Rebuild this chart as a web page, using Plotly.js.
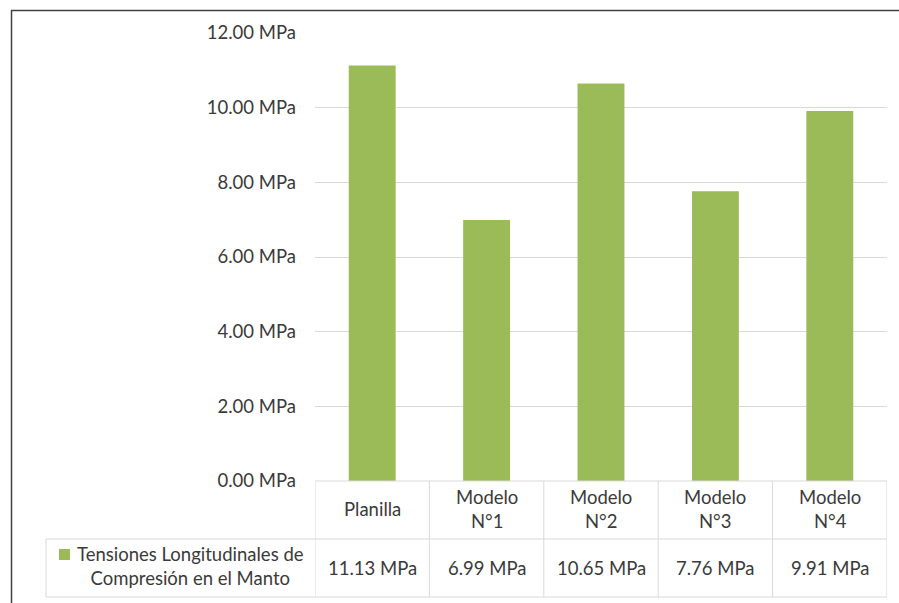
<!DOCTYPE html>
<html>
<head>
<meta charset="utf-8">
<script src="https://cdn.plot.ly/plotly-3.0.1.min.js"></script>
<style>html,body{margin:0;padding:0;background:#fff;}#chart{width:899px;height:603px;}</style>
</head>
<body>
<div id="chart"></div>
<script>
const categories = ["Planilla", "Modelo<br>N°1", "Modelo<br>N°2", "Modelo<br>N°3", "Modelo<br>N°4"];
const values = [11.13, 6.99, 10.65, 7.76, 9.91];
const seriesName = "Tensiones Longitudinales de<br>Compresión en el Manto";
const yTicks = [0, 2, 4, 6, 8, 10, 12];
const yTickText = ["0.00 MPa", "2.00 MPa", "4.00 MPa", "6.00 MPa", "8.00 MPa", "10.00 MPa", "12.00 MPa"];

const W = 899, H = 603;
const L = 315, R = 12, T = 33, B = 122;
const PW = W - L - R, PH = H - T - B;
const px = x => (x - L) / PW;
const py = y => (H - B - y) / PH;

const font = {family: "Lato, 'Open Sans', sans-serif", size: 18.5, color: "#3a3a3a"};
const lineCol = "#D9D9D9";
const barCol = "#9BBB59";

const shapes = [];
const annotations = [];
shapes.push({type:"line", xref:"paper", yref:"paper", x0:px(315), x1:px(887), y0:py(481), y1:py(481), line:{color:lineCol, width:1}});
shapes.push({type:"line", xref:"paper", yref:"paper", x0:px(46), x1:px(887), y0:py(539), y1:py(539), line:{color:lineCol, width:1}});
shapes.push({type:"line", xref:"paper", yref:"paper", x0:px(46), x1:px(887), y0:py(597), y1:py(597), line:{color:lineCol, width:1}});
shapes.push({type:"line", xref:"paper", yref:"paper", x0:px(46), x1:px(46), y0:py(539), y1:py(597), line:{color:lineCol, width:1}});
for (let i = 0; i <= categories.length; i++) {
  shapes.push({type:"line", xref:"x", yref:"paper", x0:i - 0.5, x1:i - 0.5, y0:py(481), y1:py(597), line:{color:lineCol, width:1}});
}
shapes.push({type:"rect", xref:"paper", yref:"paper", x0:px(59), x1:px(70), y0:py(560), y1:py(549), fillcolor:barCol, line:{width:0}});
shapes.push({type:"line", xref:"paper", yref:"paper", x0:px(11), x1:px(899), y0:py(10.5), y1:py(10.5), line:{color:"#404040", width:1.5}});
shapes.push({type:"line", xref:"paper", yref:"paper", x0:px(11.5), x1:px(11.5), y0:py(10), y1:py(603), line:{color:"#404040", width:1.5}});

categories.forEach((c, i) => {
  annotations.push({xref:"x", yref:"paper", x:i, y:py(509), text:c, showarrow:false, font:font, xanchor:"center", yanchor:"middle", align:"center"});
  annotations.push({xref:"x", yref:"paper", x:i, y:py(568), text:values[i].toFixed(2) + " MPa", showarrow:false, font:font, xanchor:"center", yanchor:"middle"});
});
annotations.push({xref:"paper", yref:"paper", x:px(190), y:py(566), text:seriesName, showarrow:false, font:font, xanchor:"center", yanchor:"middle", align:"center"});

const trace = {
  type:"bar", x:categories, y:values, marker:{color:barCol}, hoverinfo:"none", name:seriesName
};

const layout = {
  width:W, height:H,
  margin:{l:L, r:R, t:T, b:B},
  paper_bgcolor:"#fff", plot_bgcolor:"#fff",
  font:font,
  showlegend:false,
  bargap:0.59,
  xaxis:{type:"category", showticklabels:false, showgrid:false, zeroline:false, showline:false, ticks:"", range:[-0.5, 4.5]},
  yaxis:{range:[0, 12], tickmode:"array", tickvals:yTicks, ticktext:yTickText, showgrid:true, gridcolor:lineCol, gridwidth:1, zeroline:false, showline:false, ticks:"", ticklabelstandoff:18, tickfont:font},
  shapes:shapes,
  annotations:annotations
};

Plotly.newPlot("chart", [trace], layout, {displayModeBar:false, staticPlot:true});
</script>
</body>
</html>
